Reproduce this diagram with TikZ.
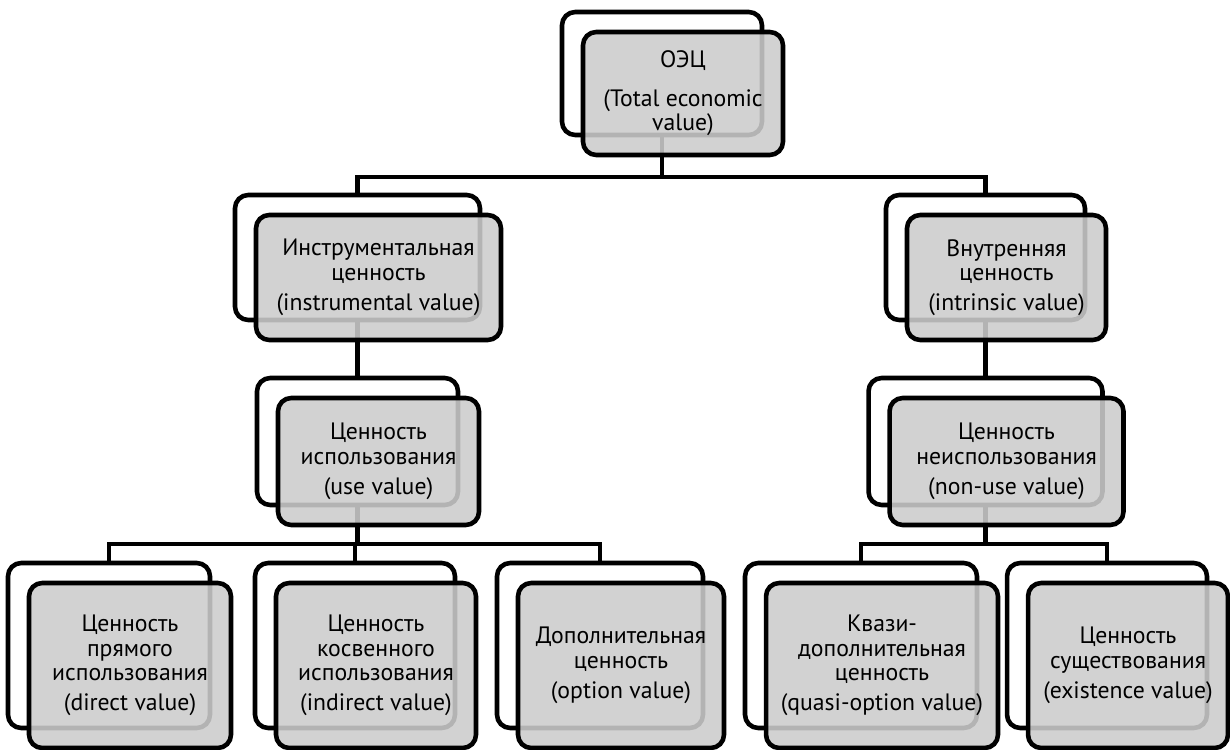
\documentclass[tikz,border=0pt]{standalone}
\usepackage{fontspec}
\setmainfont{PT Sans}
\usetikzlibrary{calc}
\definecolor{boxgray}{RGB}{204,204,204}

\begin{document}
\begin{tikzpicture}[
                x=0.02cm, y=-0.02cm,
                back/.style={draw, line width=2.6pt, rounded corners=7.5pt, fill=white, inner sep=0pt, outer sep=0pt},
                front/.style={draw, line width=2.6pt, rounded corners=7.5pt, fill=boxgray, fill opacity=0.88, text opacity=1,
                    inner sep=0pt, outer sep=0pt, align=center, font=\fontsize{13.5}{14}\selectfont},
                link/.style={line width=2.6pt},
            ]
            \useasboundingbox (0,0) rectangle (1230,750);

            % задние рамки
            \node[back, minimum width=4cm, minimum height=2.46cm] (oec-b) at (662,73.5) {};
            \node[back, minimum width=4.9cm, minimum height=2.5cm] (instr-b) at (357.5,257.5) {};
            \node[back, minimum width=3.98cm, minimum height=2.5cm] (intr-b) at (985.5,257.5) {};
            \node[back, minimum width=4.02cm, minimum height=2.54cm] (use-b) at (357.5,441.5) {};
            \node[back, minimum width=4.68cm, minimum height=2.54cm] (nonuse-b) at (985.5,441.5) {};
            \node[back, minimum width=4.04cm, minimum height=3.3cm] (direct-b) at (109,645.5) {};
            \node[back, minimum width=4cm, minimum height=3.3cm] (indirect-b) at (355,645.5) {};
            \node[back, minimum width=4.12cm, minimum height=3.3cm] (option-b) at (600,645.5) {};
            \node[back, minimum width=4.64cm, minimum height=3.3cm] (quasi-b) at (861,645.5) {};
            \node[back, minimum width=4cm, minimum height=3.3cm] (exist-b) at (1107,645.5) {};

            % связи
            \coordinate (bus0) at (0,177);
            \coordinate (bus1) at (0,544);
            \draw[link] (oec-b.south) -- (oec-b.south |- bus0);
            \draw[link] (instr-b.north) |- (intr-b.north |- bus0) -- (intr-b.north);
            \draw[link] (instr-b.south) -- (use-b.north);
            \draw[link] (intr-b.south) -- (nonuse-b.north);
            \draw[link] (use-b.south) -- (use-b.south |- bus1);
            \draw[link] (direct-b.north) |- (option-b.north |- bus1) -- (option-b.north);
            \draw[link] (indirect-b.north) -- (indirect-b.north |- bus1);
            \draw[link] (nonuse-b.south) -- (nonuse-b.south |- bus1);
            \draw[link] (quasi-b.north) |- (exist-b.north |- bus1) -- (exist-b.north);

            % передние рамки с текстом
            \node[front, minimum width=4cm, minimum height=2.46cm] (oec) at ($(oec-b)+(21,20)$)
                {ОЭЦ\\[8pt](Total economic\\value)};
            \node[front, minimum width=4.9cm, minimum height=2.5cm] (instr) at ($(instr-b)+(21,20)$)
                {Инструментальная\\ценность\\[3pt](instrumental value)};
            \node[front, minimum width=3.98cm, minimum height=2.5cm] (intr) at ($(intr-b)+(21,20)$)
                {Внутренняя\\ценность\\[3pt](intrinsic value)};
            \node[front, minimum width=4.02cm, minimum height=2.54cm] (use) at ($(use-b)+(21,20)$)
                {Ценность\\использования\\[3pt](use value)};
            \node[front, minimum width=4.68cm, minimum height=2.54cm] (nonuse) at ($(nonuse-b)+(21,20)$)
                {Ценность\\неиспользования\\[3pt](non-use value)};
            \node[front, minimum width=4.04cm, minimum height=3.3cm] (direct) at ($(direct-b)+(21,20)$)
                {Ценность\\прямого\\использования\\[3pt](direct value)};
            \node[front, minimum width=4cm, minimum height=3.3cm] (indirect) at ($(indirect-b)+(21,20)$)
                {Ценность\\косвенного\\использования\\[3pt](indirect value)};
            \node[front, minimum width=4.12cm, minimum height=3.3cm] (option) at ($(option-b)+(21,20)$)
                {Дополнительная\\ценность\\[3pt](option value)};
            \node[front, minimum width=4.64cm, minimum height=3.3cm] (quasi) at ($(quasi-b)+(21,20)$)
                {Квази-\\дополнительная\\ценность\\[3pt](quasi-option value)};
            \node[front, minimum width=4cm, minimum height=3.3cm] (exist) at ($(exist-b)+(21,20)$)
                {Ценность\\существования\\[3pt](existence value)};
        \end{tikzpicture}
\end{document}
